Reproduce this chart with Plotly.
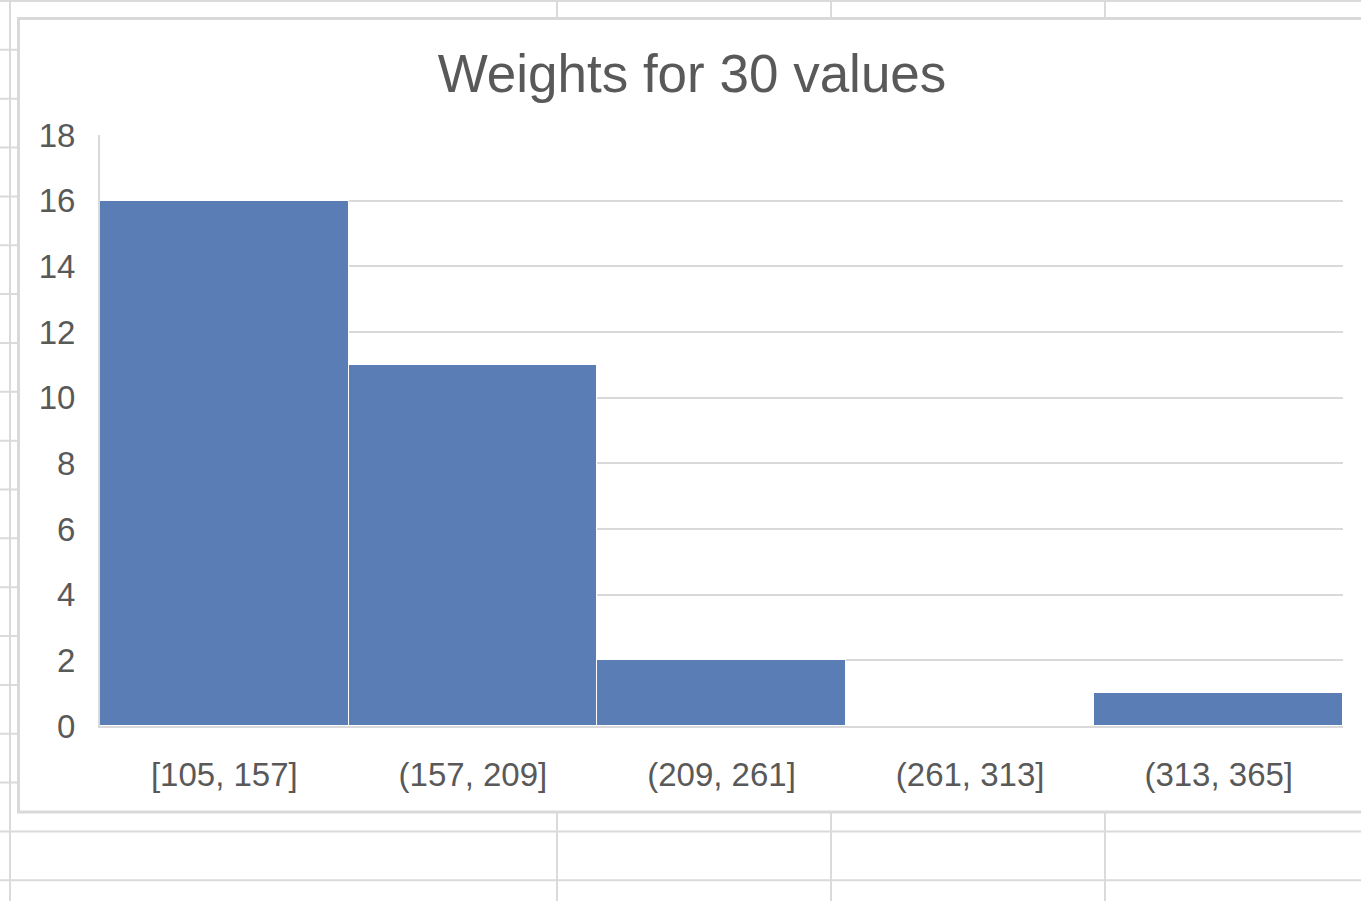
import plotly.graph_objects as go

# ---- data ----
bins = ["[105, 157]", "(157, 209]", "(209, 261]", "(261, 313]", "(313, 365]"]
counts = [16, 11, 2, 0, 1]
title_text = "Weights for 30 values"
y_ticks = [0, 2, 4, 6, 8, 10, 12, 14, 16, 18]

# ---- layout geometry (pixels) ----
W, H = 1361, 901
PL, PR, PT, PB = 100, 1343, 135, 726  # plot area edges
TXT = "#595959"
GRID = "#d9d9d9"
FONT = "Liberation Sans, Arial, Helvetica, sans-serif"


def px_x(px):
    return (px - PL) / (PR - PL)


def px_y(py):
    return (PB - py) / (PB - PT)


shapes = []
# spreadsheet background gridlines
for k in range(19):
    y = 1 + 48.85 * k
    shapes.append(dict(type="line", xref="paper", yref="paper", layer="below",
                       x0=px_x(0), x1=px_x(W), y0=px_y(y), y1=px_y(y),
                       line=dict(color="#dadada", width=2)))
for x in [10, 557, 831, 1105]:
    shapes.append(dict(type="line", xref="paper", yref="paper", layer="below",
                       x0=px_x(x), x1=px_x(x), y0=px_y(0), y1=px_y(H),
                       line=dict(color="#dadada", width=2)))
# chart area box
shapes.append(dict(type="rect", xref="paper", yref="paper", layer="below",
                   x0=px_x(18.5), x1=px_x(W + 20), y0=px_y(18.5), y1=px_y(812),
                   fillcolor="white", line=dict(color=GRID, width=3)))

fig = go.Figure(go.Bar(
    x=bins, y=counts,
    marker=dict(color="#5a7db6", line=dict(color="white", width=1)),
    hoverinfo="x+y",
))

fig.update_layout(
    width=W, height=H,
    margin=dict(l=PL, r=W - PR, t=PT, b=H - PB, pad=0),
    paper_bgcolor="white", plot_bgcolor="rgba(0,0,0,0)",
    bargap=0,
    showlegend=False,
    font=dict(family=FONT, color=TXT, size=33),
    title=dict(text=title_text, x=692 / W, xanchor="center", xref="container",
               y=1 - 73 / H, yanchor="middle", yref="container",
               font=dict(family=FONT, size=53, color=TXT)),
    shapes=shapes,
    xaxis=dict(showgrid=False, showline=True, linecolor=GRID, linewidth=2,
               ticks="", ticklabelstandoff=18, range=[-0.5, 4.5],
               tickfont=dict(size=33, color=TXT), zeroline=False),
    yaxis=dict(range=[0, 18], tickvals=y_ticks, showgrid=True, gridcolor=GRID,
               gridwidth=2, showline=True, linecolor=GRID, linewidth=2,
               ticks="", ticklabelstandoff=16, zeroline=False,
               tickfont=dict(size=33, color=TXT)),
)

fig.write_html(
    "out.html",
    config={"displayModeBar": False},
    post_script="document.body.style.margin='0';document.body.style.overflow='hidden';",
)
